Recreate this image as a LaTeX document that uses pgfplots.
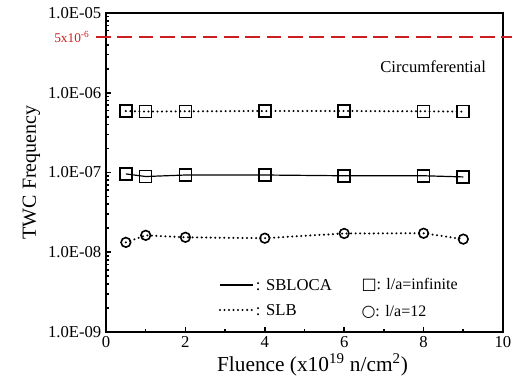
\documentclass[border=0pt]{standalone}
\usepackage{fontspec}
\setmainfont{Liberation Serif}
\newfontfamily\symfont{DejaVu Sans}
\usepackage{pgfplots}
\pgfplotsset{compat=1.18}
\definecolor{dashred}{RGB}{204,30,30}
\tikzset{rdot/.style={line cap=round, dash pattern=on 0pt off 3.4pt, line width=1.7pt}}
\begin{document}
\begin{tikzpicture}
\useasboundingbox (-79.5pt,-39pt) rectangle (304.5pt,249pt);
\begin{axis}[
  at={(0,0)}, anchor=south west,
  scale only axis, width=297.75pt, height=239.25pt,
  ymode=log, xmin=0, xmax=10, ymin=1e-9, ymax=1e-5,
  axis line style={line width=1.4pt},
  xtick={0,2,4,6,8,10}, minor xtick={1,3,5,7,9},
  xticklabels={0,2,4,6,8,10},
  ytick={1e-9,1e-8,1e-7,1e-6,1e-5},
  minor ytick={2e-9,3e-9,4e-9,5e-9,6e-9,7e-9,8e-9,9e-9,
               2e-8,3e-8,4e-8,5e-8,6e-8,7e-8,8e-8,9e-8,
               2e-7,3e-7,4e-7,5e-7,6e-7,7e-7,8e-7,9e-7,
               2e-6,3e-6,4e-6,5e-6,6e-6,7e-6,8e-6,9e-6},
  yticklabels={1.0E-09,1.0E-08,1.0E-07,1.0E-06,1.0E-05},
  tick align=inside, xtick pos=bottom, ytick pos=left,
  major tick length=4pt, minor tick length=2.5pt,
  every tick/.style={line width=1.2pt, black},
  tick label style={font=\fontsize{12.5}{14}\selectfont},
  xlabel={Fluence (x10\textsuperscript{19} n/cm\textsuperscript{2})},
  ylabel={TWC Frequency},
  label style={font=\fontsize{15}{17}\selectfont},
  xlabel style={yshift=3pt, xshift=6pt, font=\fontsize{16}{18}\selectfont},
  ylabel style={yshift=-1pt},
  clip=false,
]
% red limit line
\addplot[dashred, line width=1pt, dash pattern=on 11pt off 5pt, forget plot] coordinates {(-0.25,5e-6) (10.25,5e-6)};
% SLB, l/a = infinite
\addplot[black, rdot, mark=square, mark size=4.5pt, mark options={solid, line width=1.2pt}]
coordinates {(0.5,5.9e-7) (1,5.8e-7) (2,5.85e-7) (4,5.9e-7) (6,5.9e-7) (8,5.85e-7) (9,5.8e-7)};
% SBLOCA, l/a = infinite
\addplot[black, line width=0.9pt, mark=square, mark size=4.5pt, mark options={solid, line width=1.2pt}]
coordinates {(0.5,9.6e-8) (1,8.9e-8) (2,9.3e-8) (4,9.3e-8) (6,9.1e-8) (8,9.1e-8) (9,8.8e-8)};
% SLB, l/a = 12
\addplot[black, rdot, mark=o, mark size=3.6pt, mark options={solid, line width=1.2pt}]
coordinates {(0.5,1.33e-8) (1,1.63e-8) (2,1.54e-8) (4,1.50e-8) (6,1.72e-8) (8,1.73e-8) (9,1.46e-8)};
\node[dashred, anchor=east, font=\fontsize{10}{11}\selectfont] at (rel axis cs:-0.03,0.924) {5x10\textsuperscript{-6}};
\node[font=\fontsize{12.5}{14}\selectfont] at (rel axis cs:0.824,0.831) {Circumferential};
\draw[black, line width=1pt] (rel axis cs:0.287,0.147) -- (rel axis cs:0.370,0.147);
\draw[black, rdot] (rel axis cs:0.287,0.069) -- (rel axis cs:0.370,0.069);
\node[anchor=west, font=\fontsize{12.5}{14}\selectfont, inner sep=0pt] at (rel axis cs:0.377,0.147) {: SBLOCA};
\node[anchor=west, font=\fontsize{12.5}{14}\selectfont, inner sep=0pt] at (rel axis cs:0.377,0.069) {: SLB};
\node[anchor=west, font=\fontsize{12}{14}\selectfont, inner sep=0pt] at (rel axis cs:0.643,0.147) {{\symfont □}: l/a=infinite};
\node[anchor=west, font=\fontsize{12}{14}\selectfont, inner sep=0pt] at (rel axis cs:0.643,0.064) {{\symfont ○}: l/a=12};
\end{axis}
\end{tikzpicture}
\end{document}
